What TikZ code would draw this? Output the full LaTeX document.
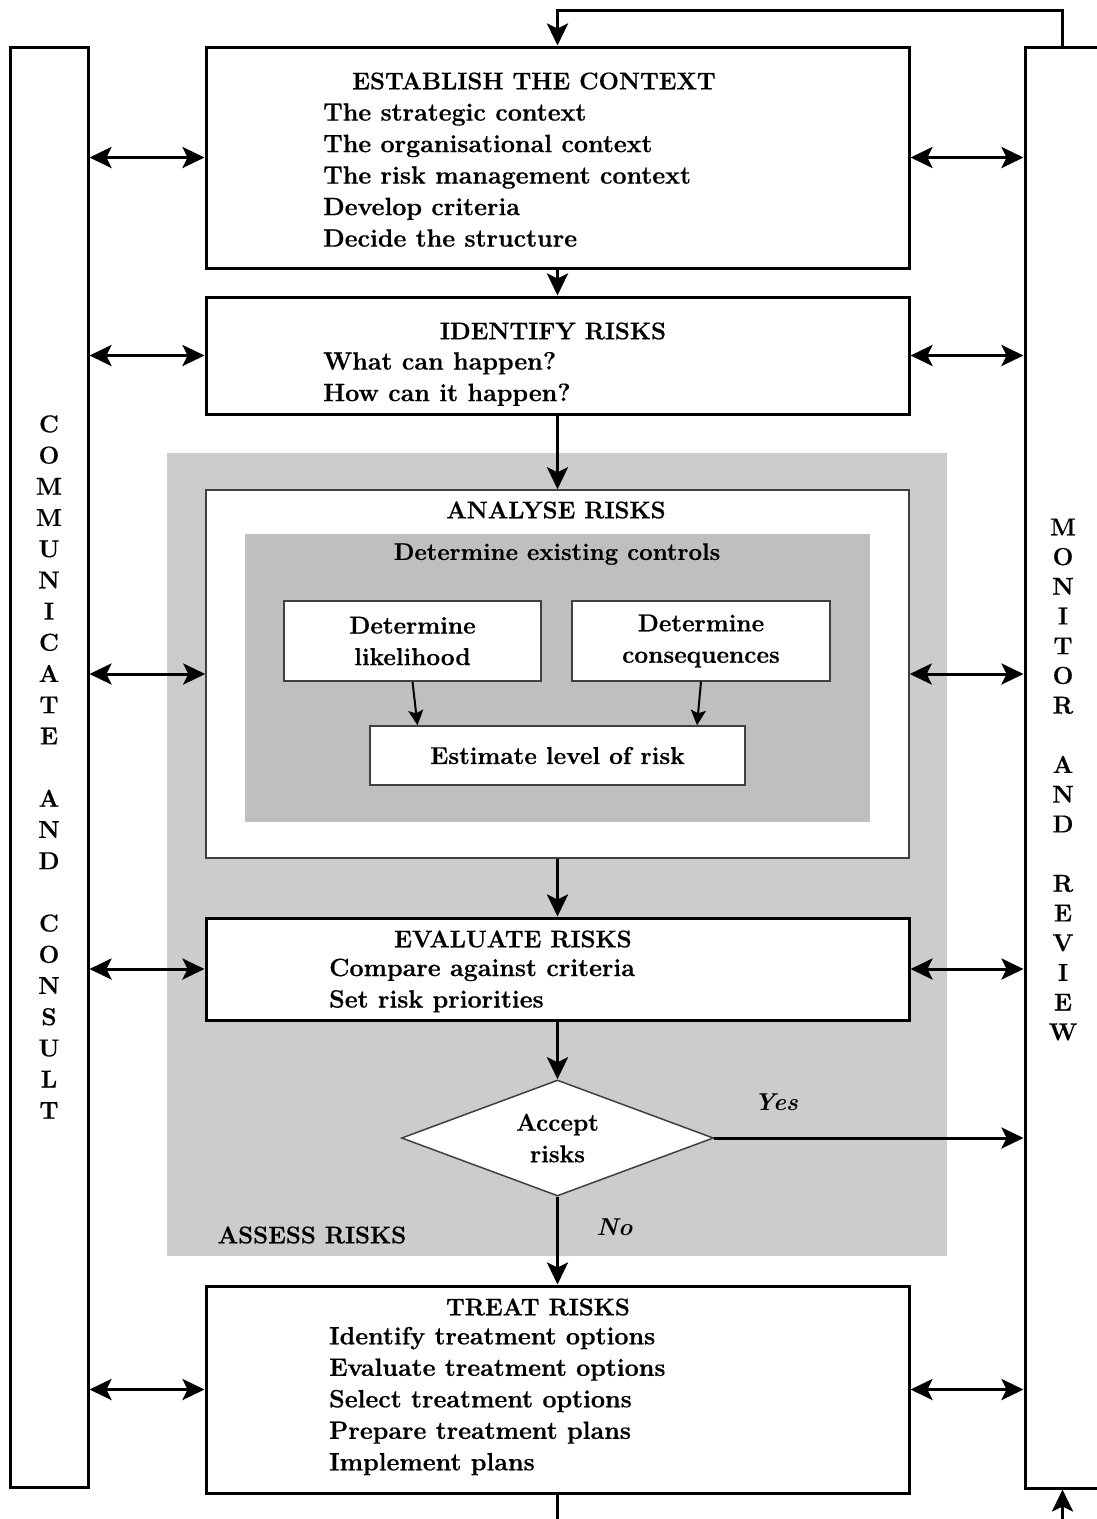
\documentclass[tikz,border=0pt]{standalone}
\usepackage{fontspec}
\setmainfont{Latin Modern Roman}[BoldFeatures={FakeBold=0.6}]
\usepackage{tikz}
\usetikzlibrary{positioning,arrows.meta,shapes.geometric}

\begin{document}
\begin{tikzpicture}[
  x=1pt, y=-1pt,
  font=\fontsize{24.4}{31.5}\selectfont\bfseries,
  box/.style={draw, line width=3pt, minimum width=703pt, inner sep=0pt},
  thinbox/.style={draw=black!75, line width=1.5pt, fill=white,
                  inner sep=0pt, align=center},
  side/.style={draw, line width=3pt, inner sep=0pt},
  ttl/.style={inner sep=0pt, font=\fontsize{24}{31.5}\selectfont\bfseries},
  lst/.style={inner sep=0pt, align=left, anchor=west,
              font=\fontsize{25}{31.5}\selectfont\bfseries},
  vert/.style={inner sep=0pt, align=center},
  arr/.style={-{Stealth[length=22pt,width=21pt,inset=5pt]}, line width=3pt},
  dbl/.style={{Stealth[length=22pt,width=21pt,inset=5pt]}-{Stealth[length=22pt,width=21pt,inset=5pt]},
              line width=3pt},
  sarr/.style={-{Stealth[length=15pt,width=15pt,inset=3pt]}, line width=2pt}
]
\useasboundingbox (0,0) rectangle (1096,1519);

% side columns
\node[side, minimum width=78pt, minimum height=1440pt] (com) at (49,767) {};
\node[side, minimum width=75pt, minimum height=1441pt] (mon) at (1062.5,767.5) {};
\node[vert, font=\fontsize{24.4}{31.2}\selectfont\bfseries] (comtxt) at (49,767)
  {C\\O\\M\\M\\U\\N\\I\\C\\A\\T\\E\\[31.2pt]A\\N\\D\\[31.2pt]C\\O\\N\\S\\U\\L\\T};
\node[vert, font=\fontsize{24.4}{29.7}\selectfont\bfseries] (montxt) at (1063,779.5)
  {M\\O\\N\\I\\T\\O\\R\\[29.7pt]A\\N\\D\\[29.7pt]R\\E\\V\\I\\E\\W};

% assess risks area
\node[fill=black!20, minimum width=780pt, minimum height=803pt, inner sep=0pt]
  (assess) at (557,854.5) {};
\node[thinbox, minimum width=703pt, minimum height=368pt] (ana) at (557.5,674) {};
\node[fill=black!25, minimum width=625pt, minimum height=288pt, inner sep=0pt]
  (ctrl) at (557.5,678) {};

% main steps
\node[box, minimum height=221pt] (est) at (557.5,157.5) {};
\node[box, minimum height=117pt] (idr) at (557.5,355.5) {};
\node[box, fill=white, minimum height=102pt] (eva) at (557.5,969) {};
\node[box, minimum height=207pt] (trt) at (557.5,1389.5) {};

\node[ttl] (esttl) at (534,81) {ESTABLISH THE CONTEXT};
\node[lst] (estls) at (323,175) {The strategic context\\The organisational context\\
  The risk management context\\Develop criteria\\Decide the structure};
\node[ttl] (idrtl) at (553,331) {IDENTIFY RISKS};
\node[lst] (idrls) at (323,379) {What can happen?\\How can it happen?};
\node[ttl] (anatl) at (556,510) {ANALYSE RISKS};
\node[ttl] (ctrltl) at (557,554) {Determine existing controls};
\node[ttl] (evatl) at (513,939) {EVALUATE RISKS};
\node[lst] (evals) at (329,985.5) {Compare against criteria\\Set risk priorities};
\node[ttl] (trttl) at (538,1307) {TREAT RISKS};
\node[lst] (trtls) at (329,1401) {Identify treatment options\\Evaluate treatment options\\
  Select treatment options\\Prepare treatment plans\\Implement plans};

% analysis detail
\node[thinbox, minimum width=257pt, minimum height=80pt] (lik) at (412.5,641)
  {Determine\\likelihood};
\node[thinbox, minimum width=258pt, minimum height=80pt] (con) at (701,641)
  {Determine\\consequences};
\node[thinbox, minimum width=375pt, minimum height=59pt] (lvl) at (557.5,755.5)
  {Estimate level of risk};
\draw[sarr] (lik.south) -- ([xshift=5pt]lik.south |- lvl.north);
\draw[sarr] (con.south) -- ([xshift=-4pt]con.south |- lvl.north);

% decision
\node[diamond, draw=black!75, line width=1.5pt, fill=white, shape aspect=2.69,
      minimum width=312pt, minimum height=116pt, inner sep=0pt, align=center]
  (acc) at (557.5,1138) {Accept\\risks};
\node[ttl] (asstl) at (312,1235) {ASSESS RISKS};

% flow
\draw[arr] (mon.north) -- ++(0,-35) -| (est.north);
\draw[arr] (est) -- (idr);
\draw[arr] (idr) -- (ana);
\draw[arr] (ana) -- (eva);
\draw[arr] (eva) -- (acc);
\draw[arr] (acc) -- (trt) node[pos=0.35, right=34pt, font=\fontsize{24.4}{31.5}\selectfont\bfseries\itshape] {No};
\draw[arr] (acc.east) -- (mon.west |- acc.east)
  node[pos=0.2, above=22pt, font=\fontsize{24.4}{31.5}\selectfont\bfseries\itshape] {Yes};

\foreach \n in {est,idr,ana,eva,trt}{
  \draw[dbl] (com.east |- \n.west) -- (\n.west);
  \draw[dbl] (\n.east) -- (mon.west |- \n.east);
}

\coordinate (botL) at (557.5,1519);
\coordinate (botR) at (1062.5,1519);
\draw[line width=3pt] (trt.south) -- (botL);
\draw[arr] (botR) -- (mon.south);
\end{tikzpicture}
\end{document}
